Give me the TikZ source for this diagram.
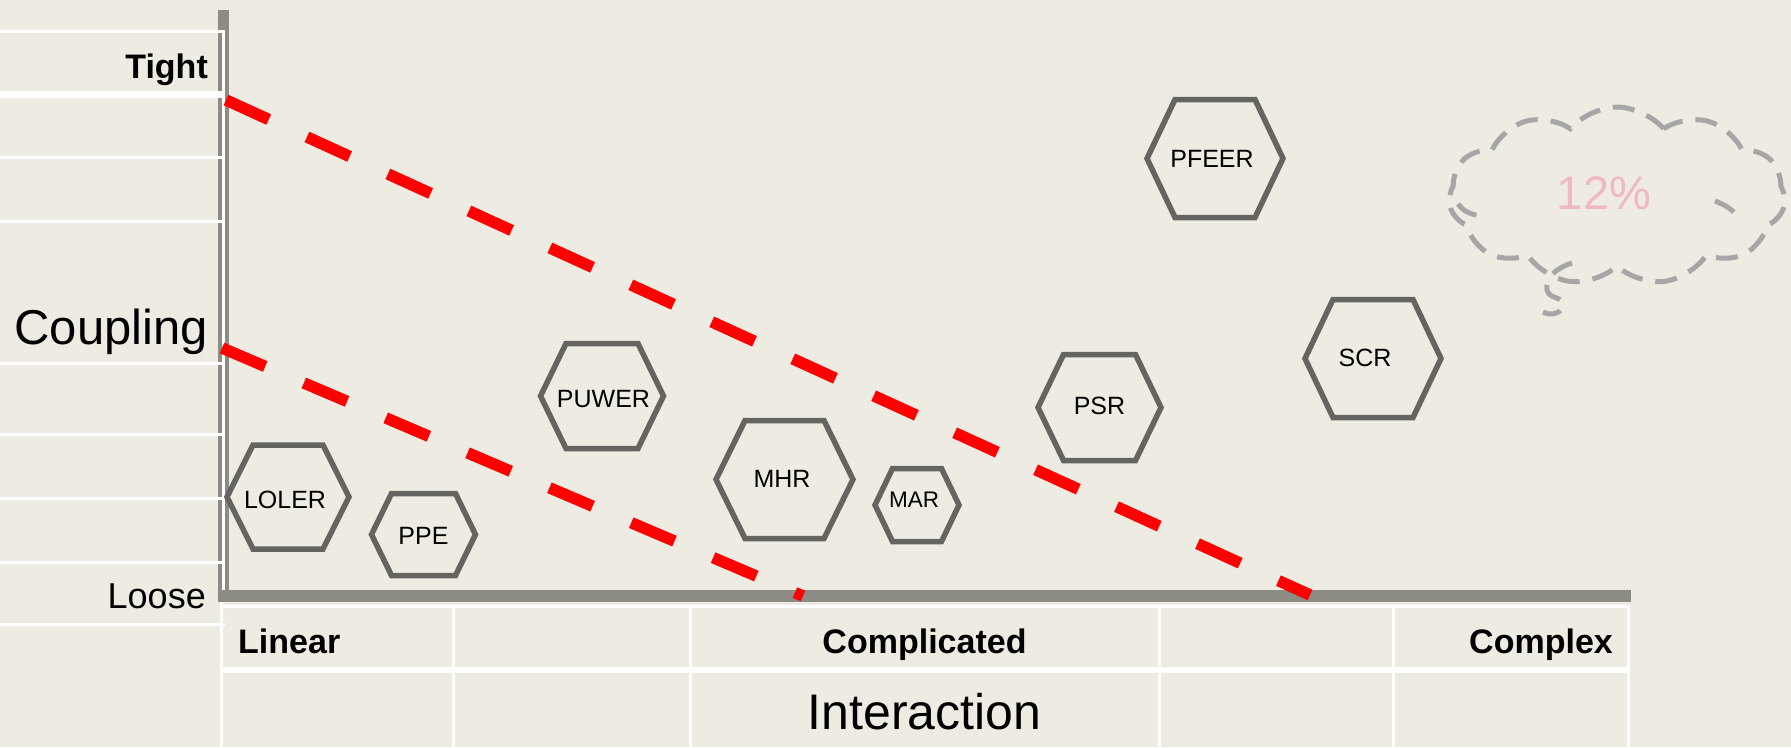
\documentclass[tikz,border=0pt]{standalone}
\usepackage{fontspec}
\setmainfont{Liberation Sans}
\usetikzlibrary{calc,shapes.symbols}
\definecolor{paper}{RGB}{238,236,226}
\definecolor{axisgrey}{RGB}{140,140,133}
\definecolor{hexgrey}{RGB}{100,101,96}
\definecolor{puffgrey}{RGB}{166,166,166}
\definecolor{softpink}{RGB}{240,183,196}
\def\hexagon[#1](#2)(#3:#4:#5){\draw[#1] ($(#2)+(-#3,0)$) -- ($(#2)+(-#5,-#4)$) -- ($(#2)+(#5,-#4)$) -- ($(#2)+(#3,0)$) -- ($(#2)+(#5,#4)$) -- ($(#2)+(-#5,#4)$) -- cycle;}

\begin{document}
\begin{tikzpicture}[x=1pt, y=-1pt,
	tableline/.style={draw=white, line width=3pt},
	headline/.style={draw=white, line width=6.5pt},
	hexline/.style={draw=hexgrey, line width=5.5pt, line join=miter},
	hexlabel/.style={inner sep=0pt, font=\fontsize{25}{30}\selectfont},
	axislabel/.style={inner sep=0pt, font=\bfseries\fontsize{34}{40}\selectfont},
	riskline/.style={draw=red, line width=11.5pt, dash pattern=on 47pt off 42pt},
	puffline/.style={draw=puffgrey, line width=5pt, dash pattern=on 22pt off 13pt}]
			%%%%% START %%%%%
			
			\useasboundingbox (0,0) rectangle (1791,747);
			\fill[paper] (0,0) rectangle (1791,747);
			
			\fill[axisgrey] (217.5,10) rectangle (229,602);
			\fill[axisgrey] (217.5,590) rectangle (1631,602);
			
			\draw[tableline] (0,31) -- (225,31);
			\draw[headline] (0,94.5) -- (225,94.5);
			\draw[tableline] (0,157) -- (225,157);
			\draw[tableline] (0,221) -- (225,221);
			\draw[tableline] (0,363) -- (225,363);
			\draw[tableline] (0,434) -- (225,434);
			\draw[tableline] (0,498) -- (225,498);
			\draw[tableline] (0,562) -- (225,562);
			\draw[tableline] (0,624) -- (225,624);
			\draw[tableline] (223.5,31) -- (223.5,590);
			
			\draw[tableline] (219.5,606) -- (1629.5,606);
			\draw[headline] (219.5,670) -- (1629.5,670);
			\draw[tableline] (221,602) -- (221,747);
			\draw[tableline] (453,606) -- (453,747);
			\draw[tableline] (690,606) -- (690,747);
			\draw[tableline] (1159,606) -- (1159,747);
			\draw[tableline] (1393,606) -- (1393,747);
			\draw[tableline] (1628,606) -- (1628,747);
			
			\node[axislabel, anchor=base east] (tight) at (208,78) {Tight};
			\node[inner sep=0pt, anchor=base east, font=\fontsize{49}{58}\selectfont] (coupling) at (208,344) {Coupling};
			\node[inner sep=0pt, anchor=base east, font=\fontsize{36}{43}\selectfont] (loose) at (206,608) {Loose};
			\node[axislabel, anchor=base west] (linear) at (238,653) {Linear};
			\node[axislabel, anchor=base] (complicated) at (924.5,653) {Complicated};
			\node[axislabel, anchor=base east] (complex) at (1613,653) {Complex};
			\node[inner sep=0pt, anchor=base, font=\fontsize{50}{60}\selectfont] (interaction) at (924.5,729) {Interaction};
			
			\coordinate (upper-top) at (226,100);
			\coordinate (upper-foot) at (1310,595);
			\coordinate (lower-top) at (222,348);
			\coordinate (lower-foot) at (803,596);
			\draw[riskline] (upper-top) -- (upper-foot);
			\draw[riskline] (lower-top) -- (lower-foot);
			
			\coordinate (loler) at (288,497);
			\hexagon[hexline](loler)(61:52:35);
			\node[hexlabel] (loler-t) at (285,500) {LOLER};
			
			\coordinate (ppe) at (423.5,534.5);
			\hexagon[hexline](ppe)(52:41:32);
			\node[hexlabel] (ppe-t) at (423.5,536) {PPE};
			
			\coordinate (puwer) at (602,396);
			\hexagon[hexline](puwer)(61.5:52.5:36);
			\node[hexlabel] (puwer-t) at (603.5,399) {PUWER};
			
			\coordinate (mhr) at (784.5,479.5);
			\hexagon[hexline](mhr)(68.5:59:39.5);
			\node[hexlabel] (mhr-t) at (782,479) {MHR};
			
			\coordinate (mar) at (917,505);
			\hexagon[hexline](mar)(42:36.5:24.5);
			\node[hexlabel, font=\fontsize{22.5}{27}\selectfont] (mar-t) at (914,500) {MAR};
			
			\coordinate (psr) at (1099.5,407.5);
			\hexagon[hexline](psr)(61.5:53:36);
			\node[hexlabel] (psr-t) at (1099.5,406) {PSR};
			
			\coordinate (pfeer) at (1215,158.5);
			\hexagon[hexline](pfeer)(68:59:40);
			\node[hexlabel] (pfeer-t) at (1212,159) {PFEER};
			
			\coordinate (scr) at (1373,358.5);
			\hexagon[hexline](scr)(68:59:40);
			\node[hexlabel] (scr-t) at (1365,358) {SCR};
			
			\node[cloud, cloud puffs=11, cloud puff arc=100, cloud ignores aspect, minimum width=336pt, minimum height=178pt, puffline] (bubble) at (1617,196) {};
			\draw[puffline] (1715,201) .. controls (1728,206) and (1736,212) .. (1741,222);
			\draw[puffline] (1458,204) .. controls (1464,212) and (1472,215) .. (1482,216);
			\draw[puffline] (1572,263) .. controls (1556,268) and (1545,278) .. (1547,290) .. controls (1549,300) and (1565,296) .. (1563,306) .. controls (1561,314) and (1550,316) .. (1543,312);
			\node[inner sep=0pt, text=softpink, font=\fontsize{47}{56}\selectfont] (pct) at (1604,193) {12\%};
			
			%%%%% END %%%%%
\end{tikzpicture}
\end{document}
